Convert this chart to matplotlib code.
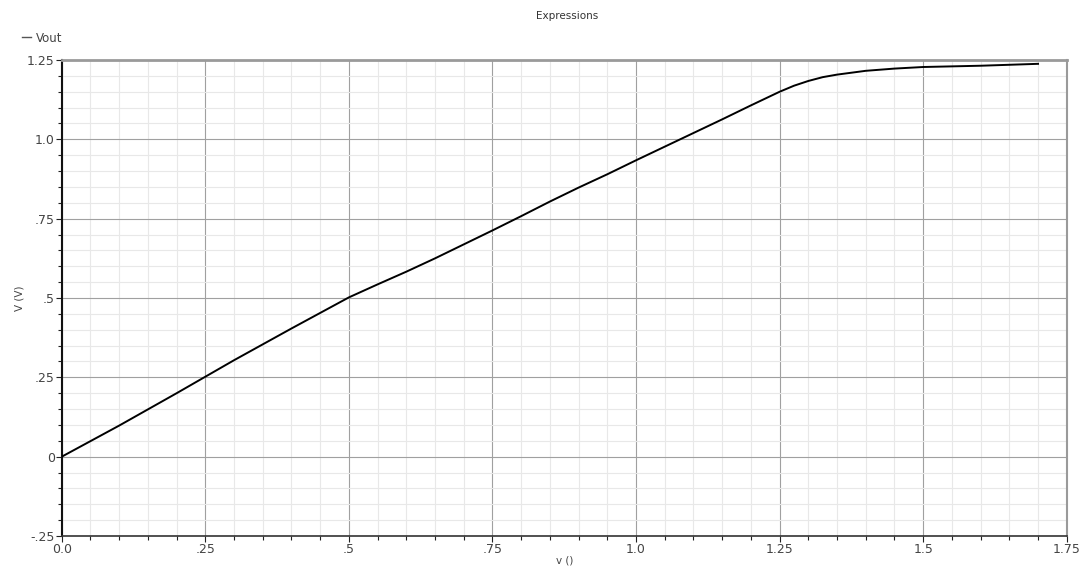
import matplotlib
matplotlib.use("Agg")
import matplotlib.pyplot as plt
from matplotlib.ticker import FixedLocator, MultipleLocator

# Swept input voltage and resulting output voltage
v_in = [0.0, 0.05, 0.1, 0.15, 0.2, 0.25, 0.3, 0.35, 0.4, 0.45, 0.5, 0.55, 0.6,
        0.65, 0.7, 0.75, 0.8, 0.85, 0.9, 0.95, 1.0, 1.05, 1.1, 1.15, 1.2, 1.25,
        1.275, 1.3, 1.325, 1.35, 1.4, 1.45, 1.5, 1.55, 1.6, 1.65, 1.7]
v_out = [0.0, 0.049, 0.098, 0.149, 0.2, 0.252, 0.304, 0.354, 0.404, 0.453, 0.502,
         0.543, 0.583, 0.625, 0.669, 0.713, 0.758, 0.804, 0.848, 0.890, 0.934, 0.977,
         1.020, 1.063, 1.107, 1.150, 1.169, 1.184, 1.196, 1.204, 1.216, 1.223,
         1.228, 1.230, 1.232, 1.235, 1.238]

x_ticks = [0.0, 0.25, 0.5, 0.75, 1.0, 1.25, 1.5, 1.75]
x_tick_labels = ["0.0", ".25", ".5", ".75", "1.0", "1.25", "1.5", "1.75"]
y_ticks = [-0.25, 0.0, 0.25, 0.5, 0.75, 1.0, 1.25]
y_tick_labels = ["-.25", "0", ".25", ".5", ".75", "1.0", "1.25"]

plt.rcParams["font.family"] = ["DejaVu Sans"]
text_color = "#444444"

fig = plt.figure(figsize=(10.83, 5.70), dpi=100)
ax = fig.add_axes([0.057, 0.0596, 0.928, 0.8351])

ax.plot(v_in, v_out, color="black", lw=1.4, label="Vout", zorder=3)

ax.set_xlim(0.0, 1.75)
ax.set_ylim(-0.25, 1.25)

ax.xaxis.set_major_locator(FixedLocator(x_ticks))
ax.set_xticklabels(x_tick_labels)
ax.yaxis.set_major_locator(FixedLocator(y_ticks))
ax.set_yticklabels(y_tick_labels)
ax.xaxis.set_minor_locator(MultipleLocator(0.05))
ax.yaxis.set_minor_locator(MultipleLocator(0.05))

ax.grid(which="major", color="#a0a0a0", lw=0.8, zorder=1)
ax.grid(which="minor", color="#e8e8e8", lw=0.8, zorder=0)

ax.tick_params(which="major", direction="out", length=4, width=0.8, color="#222222",
               labelsize=9, labelcolor=text_color, pad=1)
ax.tick_params(which="minor", direction="out", length=3, width=0.8, color="#222222")

ax.spines["left"].set_color("#111111")
ax.spines["left"].set_linewidth(1.5)
ax.spines["bottom"].set_color("#333333")
ax.spines["bottom"].set_linewidth(1.2)
ax.spines["top"].set_color("#9a9a9a")
ax.spines["top"].set_linewidth(2.0)
ax.spines["right"].set_color("#9a9a9a")
ax.spines["right"].set_linewidth(1.5)

ax.set_xlabel("v ()", fontsize=7.5, color=text_color, labelpad=0)
ax.set_ylabel("V (V)", fontsize=7.5, color=text_color, labelpad=2)

fig.text(0.5235, 1 - 16 / 570, "Expressions", ha="center", va="center",
         fontsize=7.5, color="#333333")

leg = fig.legend(loc="center left", bbox_to_anchor=(0.020, 1 - 38 / 570),
                 frameon=False, fontsize=8.5, handlelength=0.8, handletextpad=0.4,
                 borderaxespad=0, borderpad=0)
for h in leg.get_lines():
    h.set_color("#555555")
    h.set_linewidth(1.0)
for t in leg.get_texts():
    t.set_color(text_color)

fig.savefig("out.png", dpi=100)
